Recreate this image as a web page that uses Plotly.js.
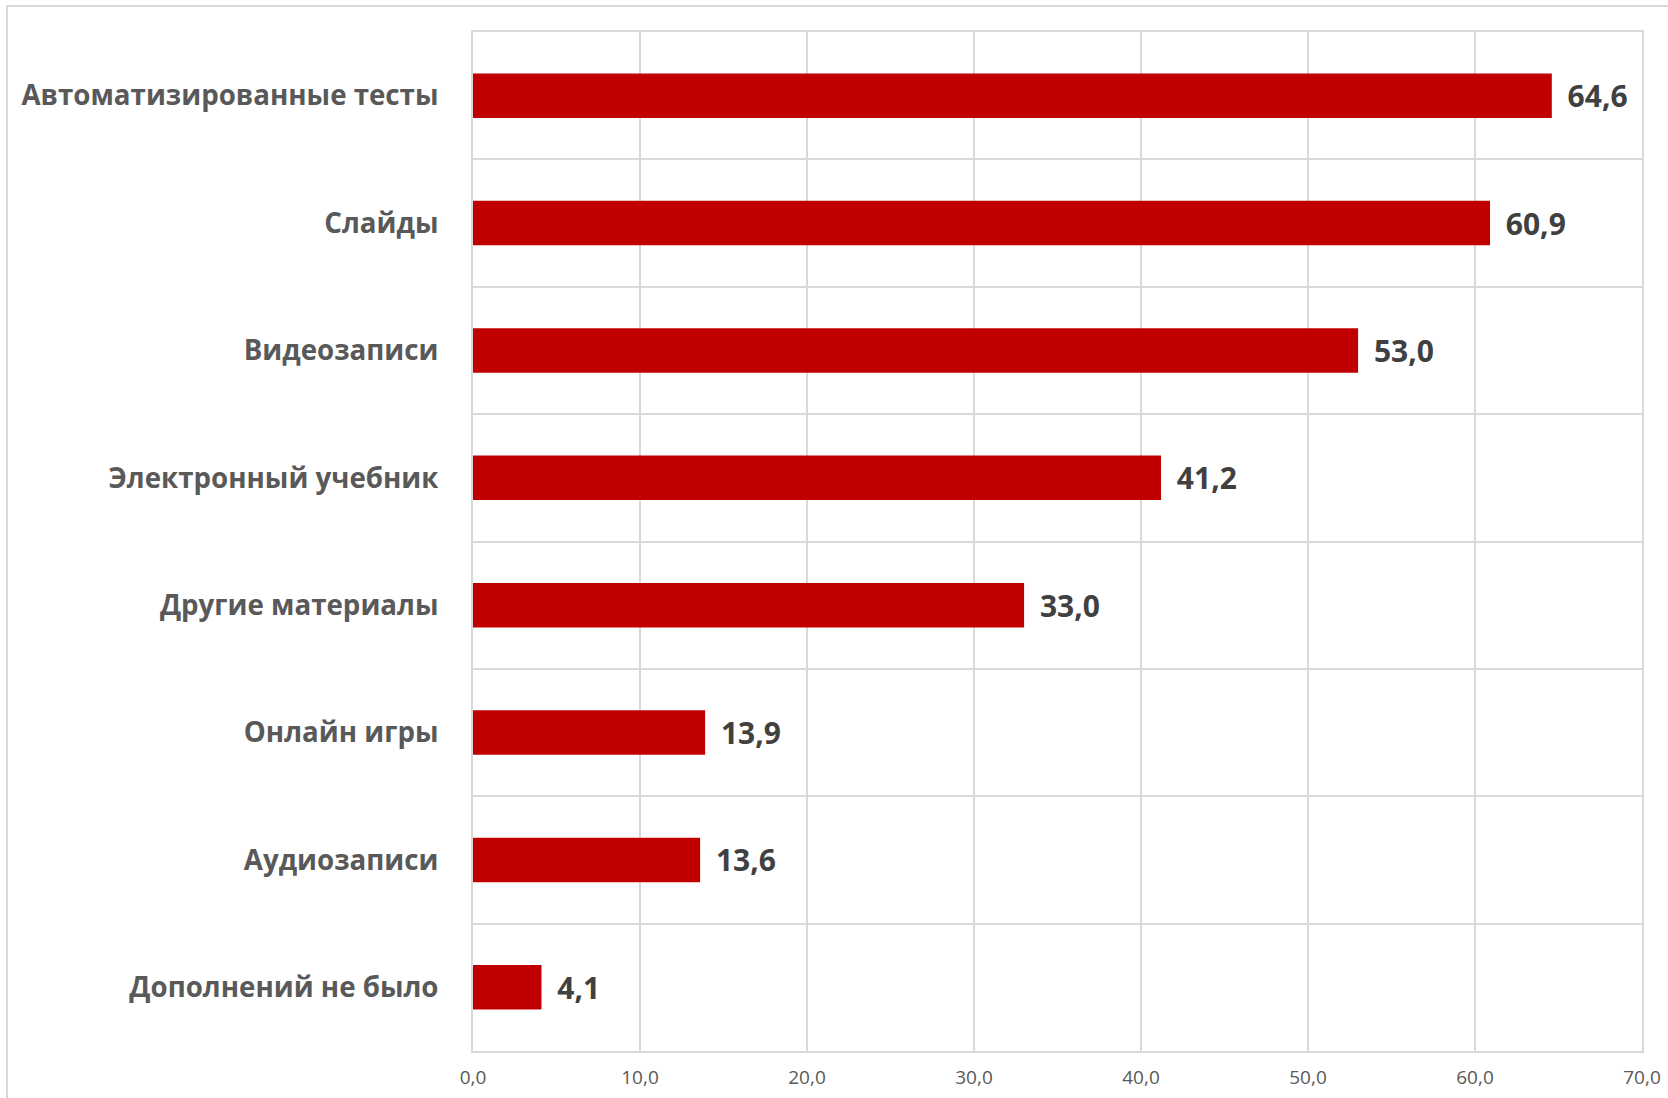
<!DOCTYPE html>
<html>
<head>
<meta charset="utf-8">
<script src="https://cdn.plot.ly/plotly-3.0.1.min.js"></script>
<style>
  html, body { margin: 0; padding: 0; background: #fff; }
  #chart { width: 1668px; height: 1098px; }
  #frame { position: absolute; left: 6px; top: 5px; width: 1700px; height: 1200px;
           border: 2px solid #d9d9d9; pointer-events: none; box-sizing: border-box; }
</style>
</head>
<body>
<div id="chart"></div>
<div id="frame"></div>
<script>
const categories = [
  "Автоматизированные тесты",
  "Слайды",
  "Видеозаписи",
  "Электронный учебник",
  "Другие материалы",
  "Онлайн игры",
  "Аудиозаписи",
  "Дополнений не было"
];
const values = [64.6, 60.9, 53.0, 41.2, 33.0, 13.9, 13.6, 4.1];
const xTicks = [0, 10, 20, 30, 40, 50, 60, 70];

const trace = {
  type: "bar",
  orientation: "h",
  y: categories,
  x: values,
  marker: { color: "#C00000" },
  texttemplate: "\u00a0\u2009%{x:.1f}",
  textposition: "outside",
  cliponaxis: false,
  textfont: { family: "Open Sans", size: 30, color: "#404040", weight: "bold" },
  hoverinfo: "none"
};

const layout = {
  width: 1668,
  height: 1098,
  margin: { l: 473, r: 26, t: 32, b: 47 },
  paper_bgcolor: "#ffffff",
  plot_bgcolor: "#ffffff",
  separators: ", ",
  showlegend: false,
  bargap: 0.65,
  font: { family: "Open Sans", color: "#595959" },
  xaxis: {
    range: [0, 70],
    tickvals: xTicks,
    tickformat: ".1f",
    showgrid: true,
    gridcolor: "#d9d9d9",
    gridwidth: 2,
    zeroline: false,
    showline: true,
    linecolor: "#d9d9d9",
    linewidth: 2,
    mirror: true,
    ticks: "",
    ticklabelstandoff: 8,
    tickfont: { family: "Open Sans", size: 19, color: "#595959" },
    fixedrange: true
  },
  yaxis: {
    type: "category",
    categoryorder: "array",
    categoryarray: categories,
    autorange: "reversed",
    tickson: "boundaries",
    showgrid: true,
    gridcolor: "#d9d9d9",
    gridwidth: 2,
    showline: true,
    linecolor: "#d9d9d9",
    linewidth: 2,
    mirror: true,
    ticks: "",
    ticklabelstandoff: 27,
    tickfont: { family: "Open Sans", size: 27.7, color: "#595959", weight: "bold" },
    fixedrange: true
  }
};

Plotly.newPlot("chart", [trace], layout, { displayModeBar: false, staticPlot: true });
</script>
</body>
</html>
